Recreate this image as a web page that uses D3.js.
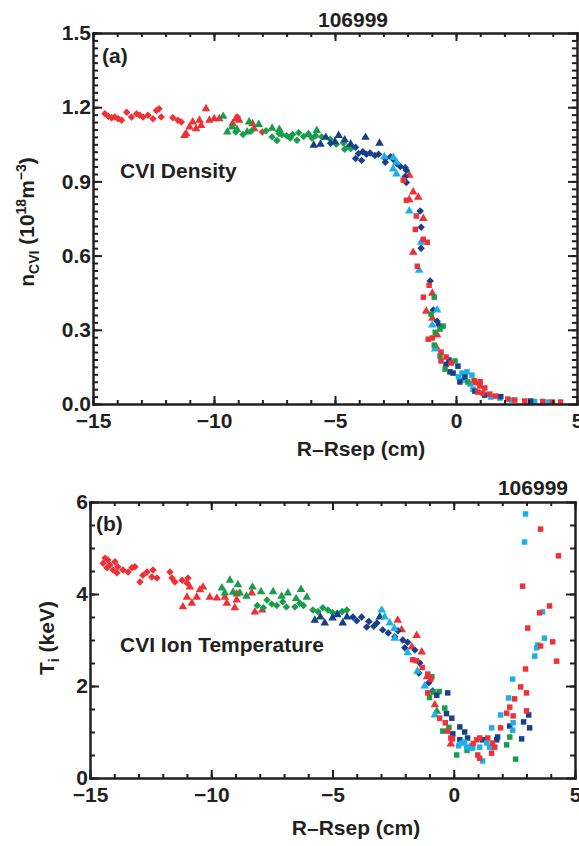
<!DOCTYPE html>
<html>
<head>
<meta charset="utf-8">
<script src="https://cdn.jsdelivr.net/npm/d3@7"></script>
<style>
  body { margin: 0; background: #fff; }
  svg { display: block; }
  text { font-family: "Liberation Sans", Arial, sans-serif; font-weight: bold; fill: #231f20; }
  .axis path, .axis line { stroke: #231f20; stroke-width: 2; }
  .axis text { font-size: 21px; }
</style>
</head>
<body>
<svg id="chart" width="579" height="846"></svg>
<script>
// colours used in the figure
const RED = '#ec3237'
const GREEN = '#1a9d4b'
const NAVY = '#173f8c'
const CYAN = '#1ab0e8'

const shot = '106999'
const xMajor = [-15, -10, -5, 0, 5]
const nMajor = [0.0, 0.3, 0.6, 0.9, 1.2, 1.5]
const tMajor = [0, 2, 4, 6]

// (a) CVI density, [R-Rsep (cm), n (1e18 m^-3)]
const nRedDiamond = [[-14.51, 1.174], [-14.37, 1.163], [-14.23, 1.157], [-14.1, 1.16], [-13.96, 1.153], [-13.82, 1.147],
  [-13.61, 1.18], [-13.41, 1.16], [-13.2, 1.174], [-13.07, 1.167], [-12.93, 1.16], [-12.73, 1.167], [-12.52, 1.153],
  [-12.38, 1.187], [-12.27, 1.194], [-12.18, 1.16], [-11.7, 1.157], [-11.49, 1.147], [-11.35, 1.14], [-9.04, 1.16], [-8.0, 1.1]]
const nRedTriangle = [[-11.22, 1.086], [-11.15, 1.093], [-11.01, 1.12], [-10.88, 1.14], [-10.74, 1.113], [-10.6, 1.147],
  [-10.53, 1.126], [-10.33, 1.194], [-10.19, 1.147], [-9.99, 1.153], [-9.78, 1.153], [-9.23, 1.133], [-9.09, 1.153],
  [-8.96, 1.147], [-8.41, 1.133], [-8.34, 1.113], [-1.93, 0.925], [-1.77, 0.857], [-1.56, 0.836], [-1.93, 0.826],
  [-1.35, 0.75], [-1.77, 0.613], [-0.98, 0.448], [-1.23, 0.375], [-0.98, 0.347], [-0.78, 0.279], [-0.82, 0.23], [0.82, 0.085]]
const nRedSquare = [[-2.18, 0.905], [-2.05, 0.824], [-1.64, 0.76], [-1.68, 0.706], [-1.35, 0.666], [-1.19, 0.654],
  [-1.6, 0.557], [-1.11, 0.48], [-1.35, 0.432], [-0.98, 0.267], [-1.15, 0.262], [-0.62, 0.21], [-0.41, 0.19],
  [-0.62, 0.174], [-0.2, 0.166], [0.75, 0.095], [1.0, 0.09], [0.99, 0.073], [1.19, 0.065], [0.9, 0.048], [1.11, 0.044],
  [1.4, 0.04], [1.64, 0.032], [2.14, 0.02], [2.43, 0.016], [2.84, 0.012], [3.58, 0.01], [3.99, 0.008], [4.32, 0.008]]
const nGreenTriangle = [[-9.62, 1.163], [-9.45, 1.1], [-9.25, 1.12], [-9.05, 1.11], [-8.63, 1.1], [-8.55, 1.14],
  [-8.15, 1.13], [-7.6, 1.115], [-7.3, 1.11], [-6.1, 1.09], [-5.75, 1.106]]
const nGreenDiamond = [[-9.1, 1.1], [-8.8, 1.09], [-8.45, 1.105], [-7.85, 1.105], [-7.6, 1.08], [-7.4, 1.065],
  [-7.31, 1.094], [-7.2, 1.09], [-7.0, 1.085], [-6.85, 1.075], [-6.75, 1.09], [-6.57, 1.066], [-6.5, 1.097],
  [-6.3, 1.082], [-6.1, 1.092], [-5.95, 1.075], [-5.8, 1.085], [-5.55, 1.08], [-5.2, 1.07], [-4.95, 1.05],
  [-4.65, 1.055], [-4.6, 1.03], [-4.45, 1.04], [-4.35, 1.033]]
const nGreenSquare = [[-0.9, 0.432], [-1.03, 0.363], [-0.53, 0.315], [-0.66, 0.303], [-0.86, 0.29], [-0.9, 0.238],
  [-0.66, 0.194], [-0.04, 0.174], [-0.45, 0.141], [0.49, 0.089]]
const nNavyTriangle = [[-5.88, 1.046], [-5.6, 1.05], [-5.38, 1.078], [-5.0, 1.06], [-4.85, 1.086], [-4.6, 1.068],
  [-4.35, 1.05], [-3.74, 1.078], [-3.16, 1.054]]
const nNavyDiamond = [[-5.18, 1.054], [-4.15, 1.038], [-4.15, 0.993], [-4.03, 1.013], [-3.9, 0.985], [-3.85, 1.02],
  [-3.7, 1.01], [-3.55, 1.015], [-3.35, 1.005], [-3.2, 1.01], [-2.92, 0.993], [-2.92, 0.977], [-2.7, 1.0],
  [-2.55, 0.985], [-2.46, 0.973], [-2.3, 0.96], [-2.1, 0.955], [-2.05, 0.945], [-2.1, 0.92], [-2.05, 0.896],
  [-1.48, 0.78], [-1.44, 0.715], [-1.44, 0.63], [-1.07, 0.497], [-0.94, 0.38], [-0.78, 0.335], [-0.7, 0.319]]
const nNavySquare = [[-0.29, 0.178], [-0.41, 0.16], [0.08, 0.153], [-0.25, 0.13], [-0.12, 0.125], [0.37, 0.109],
  [0.16, 0.089], [0.78, 0.052], [1.19, 0.036], [1.85, 0.03], [3.08, 0.012]]
const nCyanTriangle = [[-2.96, 1.0], [-2.59, 0.997], [-2.46, 0.977], [-2.6, 0.95], [-2.46, 0.93], [-1.93, 0.78],
  [-1.44, 0.654], [-1.52, 0.541], [-0.78, 0.38], [-0.98, 0.319], [-0.86, 0.222]]
const nCyanSquare = [[0.1, 0.11], [0.25, 0.125], [0.45, 0.13], [0.66, 0.117], [0.29, 0.097], [0.58, 0.081],
  [0.7, 0.06], [1.44, 0.028], [1.81, 0.024], [2.3, 0.016], [3.25, 0.01], [3.8, 0.008]]

// (b) CVI ion temperature, [R-Rsep (cm), Ti (keV)]
const tRedDiamond = [[-14.38, 4.78], [-14.26, 4.74], [-14.46, 4.67], [-14.18, 4.63], [-13.97, 4.7], [-14.3, 4.57],
  [-14.05, 4.52], [-13.85, 4.59], [-13.89, 4.46], [-13.64, 4.52], [-13.27, 4.57], [-13.15, 4.59], [-13.43, 4.48],
  [-12.65, 4.48], [-12.4, 4.52], [-12.82, 4.41], [-12.94, 4.26], [-12.45, 4.37], [-12.24, 4.35], [-11.7, 4.48],
  [-11.62, 4.35], [-11.5, 4.26], [-11.2, 4.3], [-10.96, 4.35], [-11.0, 4.24]]
const tRedTriangle = [[-11.17, 3.72], [-11.0, 3.93], [-10.88, 4.15], [-10.8, 3.8], [-10.6, 3.93], [-10.47, 4.09],
  [-10.34, 4.15], [-10.06, 3.93], [-9.77, 3.91], [-9.44, 3.93], [-9.36, 3.8], [-9.03, 3.7], [-8.95, 3.87],
  [-8.95, 4.0], [-8.33, 4.02], [-8.2, 3.61], [-7.9, 3.65], [-2.31, 3.43], [-2.15, 3.22], [-1.53, 3.1],
  [-1.73, 2.85], [-1.32, 2.74], [-1.1, 2.2], [-0.78, 1.59], [-0.12, 0.74]]
const tRedSquare = [[2.84, 4.17], [3.05, 3.26], [3.54, 3.59], [3.58, 5.41], [3.95, 3.74], [4.08, 2.96], [4.32, 4.83],
  [3.58, 2.87], [4.24, 2.54], [2.96, 2.37], [2.76, 1.98], [3.0, 1.85], [2.51, 1.72], [2.31, 1.54], [3.0, 1.46],
  [2.18, 1.41], [2.45, 1.35], [1.93, 1.09], [-1.69, 2.57], [-1.55, 2.55], [-1.3, 2.4], [-1.07, 2.26], [-0.95, 2.15],
  [-1.07, 1.85], [-0.58, 1.3], [-0.35, 1.2], [-0.25, 1.02], [-0.12, 0.87], [-0.05, 0.85], [0.8, 0.75], [0.95, 0.83],
  [1.07, 0.87], [1.4, 0.87], [1.6, 0.76], [1.69, 0.67], [1.56, 0.54], [0.99, 0.5], [1.07, 0.43]]
const tGreenTriangle = [[-9.56, 4.13], [-9.23, 4.3], [-9.44, 4.02], [-9.1, 4.04], [-8.9, 4.2], [-8.82, 4.02],
  [-8.55, 3.95], [-8.3, 4.15], [-7.95, 4.05], [-7.45, 4.05], [-7.1, 3.95], [-6.84, 4.02], [-6.5, 3.9],
  [-6.3, 4.1], [-6.06, 3.93], [-0.7, 1.45]]
const tGreenDiamond = [[-8.1, 3.75], [-7.85, 3.7], [-7.7, 3.87], [-7.5, 3.78], [-7.3, 3.75], [-7.05, 3.83],
  [-6.9, 3.72], [-6.55, 3.72], [-6.35, 3.8], [-6.2, 3.75], [-5.81, 3.65], [-5.6, 3.62], [-5.4, 3.7], [-5.19, 3.65],
  [-5.0, 3.6], [-4.8, 3.58], [-4.6, 3.62], [-4.41, 3.65]]
const tGreenSquare = [[-1.0, 1.75], [-0.9, 2.2], [-0.85, 1.87], [-0.6, 1.88], [-0.37, 1.52], [-0.45, 1.02],
  [-0.2, 1.1], [0.12, 0.5], [0.55, 0.6], [2.31, 0.89], [2.18, 0.72], [2.55, 0.41]]
const tNavyTriangle = [[-5.73, 3.43], [-5.5, 3.5], [-5.32, 3.37], [-5.0, 3.48], [-4.8, 3.55], [-4.58, 3.37],
  [-4.4, 3.5], [-3.05, 3.5]]
const tNavyDiamond = [[-4.16, 3.5], [-4.0, 3.42], [-3.8, 3.5], [-3.59, 3.28], [-3.5, 3.4], [-3.3, 3.3], [-3.17, 3.37],
  [-2.93, 3.22], [-2.7, 3.15], [-2.43, 3.07], [-2.3, 3.2], [-2.1, 3.0], [-1.9, 2.95], [-2.02, 2.83], [-1.6, 2.78],
  [-1.4, 2.5], [-1.44, 2.28], [-1.03, 2.07], [-0.87, 1.89]]
const tNavySquare = [[-0.7, 1.8], [-0.25, 1.85], [-0.3, 1.4], [-0.08, 1.3], [0.25, 1.11], [-0.04, 0.96], [0.45, 1.0],
  [0.25, 0.83], [0.57, 0.87], [1.19, 0.83], [1.77, 0.83], [1.81, 0.89], [2.31, 1.13], [2.88, 1.22], [3.13, 1.09],
  [3.09, 1.37], [2.8, 0.85]]
const tCyanTriangle = [[-2.97, 3.65], [-2.85, 3.5], [-2.64, 3.37], [-2.45, 3.25], [-2.43, 3.04], [-1.9, 2.72],
  [-1.5, 2.32], [-1.2, 2.0], [-0.78, 1.37]]
const tCyanSquare = [[2.96, 5.74], [2.92, 5.13], [3.66, 3.61], [3.74, 3.04], [3.42, 2.83], [3.34, 2.65], [3.46, 2.89],
  [2.43, 2.15], [2.26, 1.74], [1.93, 1.37], [2.45, 1.2], [2.43, 1.04], [1.56, 1.09], [0.2, 0.7], [0.33, 0.76],
  [0.45, 0.78], [0.53, 0.67], [0.66, 0.65], [0.74, 0.7], [0.78, 0.65], [1.07, 0.67], [1.36, 0.76], [1.48, 0.67],
  [1.19, 0.37]]

const nSeries = [
  { data: nRedDiamond, color: RED, shape: 'diamond' },
  { data: nRedTriangle, color: RED, shape: 'triangle' },
  { data: nGreenTriangle, color: GREEN, shape: 'triangle' },
  { data: nGreenDiamond, color: GREEN, shape: 'diamond' },
  { data: nNavyTriangle, color: NAVY, shape: 'triangle' },
  { data: nNavyDiamond, color: NAVY, shape: 'diamond' },
  { data: nCyanTriangle, color: CYAN, shape: 'triangle' },
  { data: nCyanSquare, color: CYAN, shape: 'square' },
  { data: nNavySquare, color: NAVY, shape: 'square' },
  { data: nGreenSquare, color: GREEN, shape: 'square' },
  { data: nRedSquare, color: RED, shape: 'square' }
]
const tSeries = [
  { data: tRedDiamond, color: RED, shape: 'diamond' },
  { data: tRedTriangle, color: RED, shape: 'triangle' },
  { data: tGreenTriangle, color: GREEN, shape: 'triangle' },
  { data: tGreenDiamond, color: GREEN, shape: 'diamond' },
  { data: tNavyTriangle, color: NAVY, shape: 'triangle' },
  { data: tNavyDiamond, color: NAVY, shape: 'diamond' },
  { data: tCyanTriangle, color: CYAN, shape: 'triangle' },
  { data: tGreenSquare, color: GREEN, shape: 'square' },
  { data: tNavySquare, color: NAVY, shape: 'square' },
  { data: tCyanSquare, color: CYAN, shape: 'square' },
  { data: tRedSquare, color: RED, shape: 'square' }
]

const svg = d3.select('#chart')

const symbols = {
  diamond: { path: d3.symbol(d3.symbolSquare, 28)(), rot: 45 },
  triangle: { path: d3.symbol(d3.symbolTriangle, 32)(), rot: 0 },
  square: { path: d3.symbol(d3.symbolSquare, 30)(), rot: 0 }
}

function panel (opt) {
  const x = d3.scaleLinear().domain([-15, 5]).range([opt.left, opt.right])
  const y = d3.scaleLinear().domain(opt.yDomain).range([opt.bottom, opt.top])
  const g = svg.append('g')

  // points first, frame on top
  opt.series.forEach(s => {
    g.append('g').selectAll('path').data(s.data).join('path')
      .attr('d', symbols[s.shape].path)
      .attr('transform', d => `translate(${x(d[0])},${y(d[1])}) rotate(${symbols[s.shape].rot})`)
      .attr('fill', s.color)
  })

  const xMinor = d3.range(-15, 5.001, 1)
  const yMinor = d3.range(opt.yDomain[0], opt.yDomain[1] + 1e-6, opt.yMinorStep)

  const addAxis = (axis, tf, values, size, fmt, pad) => {
    const a = g.append('g').attr('class', 'axis').attr('transform', tf)
      .call(axis.tickValues(values).tickSize(size).tickSizeOuter(0).tickPadding(pad).tickFormat(fmt))
    return a
  }
  const none = () => ''
  // bottom
  addAxis(d3.axisBottom(x), `translate(0,${opt.bottom})`, xMinor, -4, none, 0)
  addAxis(d3.axisBottom(x), `translate(0,${opt.bottom})`, xMajor, -8, d3.format('d'), 9)
  // top
  addAxis(d3.axisTop(x), `translate(0,${opt.top})`, xMinor, -4, none, 0)
  addAxis(d3.axisTop(x), `translate(0,${opt.top})`, xMajor, -8, none, 0)
  // left
  addAxis(d3.axisLeft(y), `translate(${opt.left},0)`, yMinor, -5, none, 0)
  addAxis(d3.axisLeft(y), `translate(${opt.left},0)`, opt.yMajor, -9, opt.yFormat, 2)
  // right
  addAxis(d3.axisRight(y), `translate(${opt.right},0)`, yMinor, -5, none, 0)
  addAxis(d3.axisRight(y), `translate(${opt.right},0)`, opt.yMajor, -9, none, 0)

  g.selectAll('.axis .domain').attr('stroke-linecap', 'square')
  g.selectAll('.axis .tick line').attr('stroke-width', 1.6)

  // x axis title
  g.append('text').attr('x', opt.xTitle[0]).attr('y', opt.xTitle[1])
    .attr('text-anchor', 'middle').attr('font-size', 21).text('R–Rsep (cm)')

  // shot number
  g.append('text').attr('x', opt.shotPos[0]).attr('y', opt.shotPos[1])
    .attr('text-anchor', opt.shotAnchor).attr('font-size', 21).text(shot)

  // panel tag and caption
  g.append('text').attr('x', opt.tagPos[0]).attr('y', opt.tagPos[1]).attr('font-size', 21).text(opt.tag)
  g.append('text').attr('x', opt.capPos[0]).attr('y', opt.capPos[1]).attr('font-size', 21).text(opt.caption)

  // y axis title
  const yt = g.append('text')
    .attr('transform', `translate(${opt.yTitle[0]},${opt.yTitle[1]}) rotate(-90)`)
    .attr('text-anchor', 'middle').attr('font-size', 21)
  opt.yTitleParts.forEach(p => {
    yt.append('tspan').attr('dy', p.dy || 0).attr('font-size', p.size || 21).text(p.t)
  })
}

panel({
  left: 93, right: 577, top: 33, bottom: 404,
  yDomain: [0, 1.5], yMajor: nMajor, yMinorStep: 0.03, yFormat: d3.format('.1f'),
  series: nSeries,
  xTitle: [361, 456],
  shotPos: [353, 27], shotAnchor: 'middle',
  tag: '(a)', tagPos: [102, 63],
  caption: 'CVI Density', capPos: [120, 178],
  yTitle: [34, 222],
  yTitleParts: [
    { t: 'n' }, { t: 'CVI', size: 14, dy: 5 }, { t: ' (10', dy: -5 }, { t: '18', size: 14, dy: -8 },
    { t: 'm', dy: 8 }, { t: '−3', size: 14, dy: -8 }, { t: ')', dy: 8 }
  ]
})

panel({
  left: 90, right: 575, top: 502, bottom: 778,
  yDomain: [0, 6], yMajor: tMajor, yMinorStep: 0.5, yFormat: d3.format('d'),
  series: tSeries,
  xTitle: [356, 835],
  shotPos: [568, 495], shotAnchor: 'end',
  tag: '(b)', tagPos: [96, 531],
  caption: 'CVI Ion Temperature', capPos: [120, 652],
  yTitle: [54, 638],
  yTitleParts: [
    { t: 'T' }, { t: 'i', size: 14, dy: 5 }, { t: ' (keV)', dy: -5 }
  ]
})
</script>
</body>
</html>
